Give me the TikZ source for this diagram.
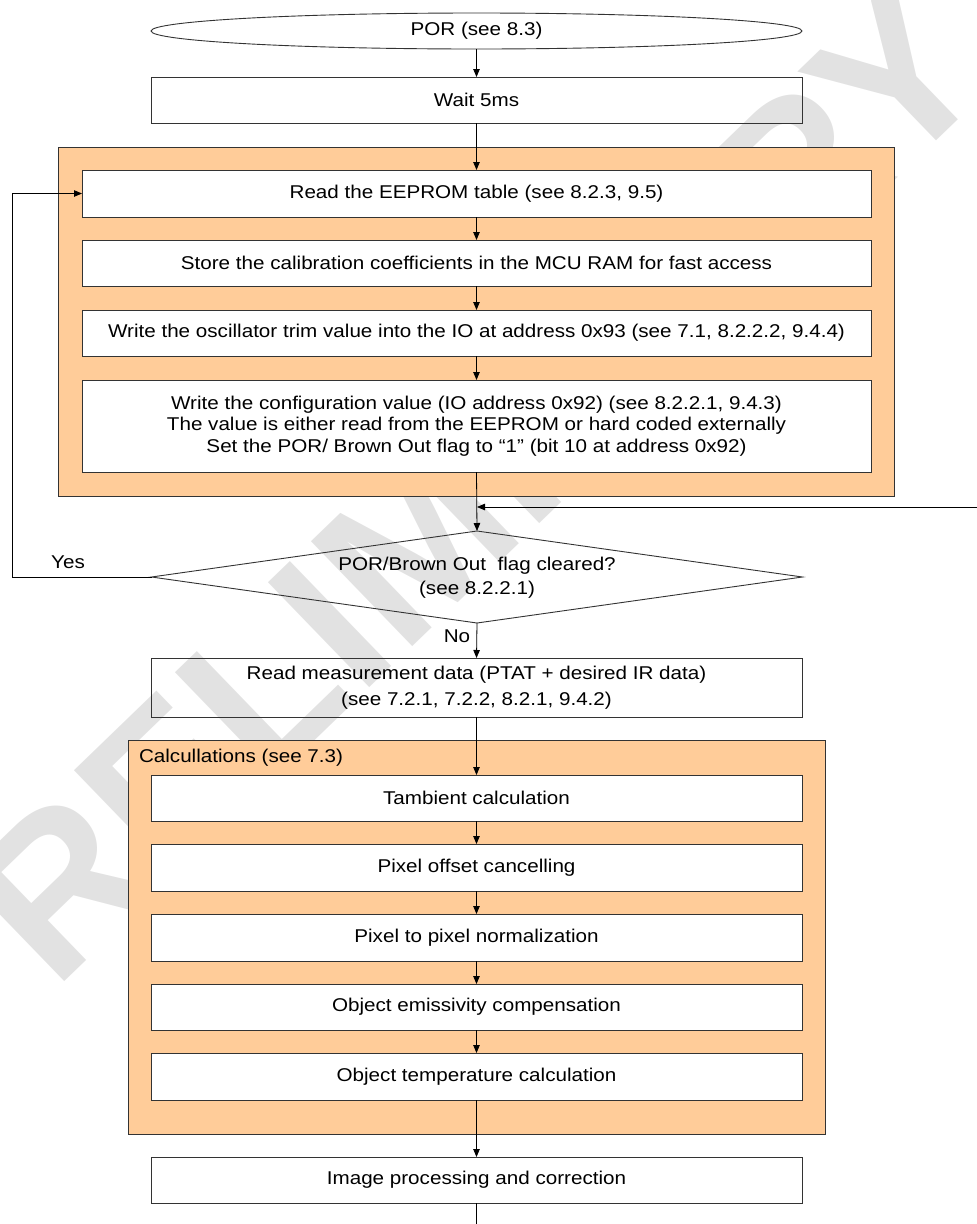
\documentclass[tikz,border=0pt]{standalone}
\usepackage{fontspec}
\setmainfont{Liberation Sans}[FakeStretch=1.115]
\newfontfamily\wmfont{Liberation Sans}
\usetikzlibrary{shapes.geometric,arrows.meta}
\definecolor{grpfill}{HTML}{FFCC99}
\definecolor{edgecol}{HTML}{333333}
\definecolor{wmark}{HTML}{E2E2E2}
\begin{document}
\begin{tikzpicture}[x=1pt,y=-1pt,
  every node/.style={font=\fontsize{18.5}{21.7}\selectfont, inner sep=0pt, outer sep=0pt},
  stepbox/.style={draw=edgecol, line width=0.9pt, align=center, minimum width=651pt, minimum height=46pt},
  innerbox/.style={stepbox, fill=white, minimum width=789pt},
  calcbox/.style={stepbox, fill=white},
  grp/.style={draw=edgecol, line width=0.9pt, fill=grpfill},
  conn/.style={draw=black, line width=0.8pt},
  arr/.style={conn, -{Triangle[length=8pt,width=6.5pt]}},
  lbl/.style={font=\fontsize{18.5}{21.7}\selectfont},
]
\useasboundingbox (0,0) rectangle (977,1224);
% watermark
\node[rotate=44, font=\wmfont\fontsize{212}{212}\selectfont\bfseries, text=wmark] (wm) at (425,533) {PRELIMINARY};

% start
\node[draw=edgecol, line width=0.9pt, ellipse, minimum width=651pt, minimum height=36pt] (por) at (476.5,31) {POR (see 8.3)};
\node[stepbox] (wait) at (476.5,100) {Wait 5ms};

% group 1
\node[grp, minimum width=836pt, minimum height=349pt] (g1) at (476,321.5) {};
\node[innerbox, minimum height=47pt] (eeprom) at (476.5,193.5) {Read the EEPROM table (see 8.2.3, 9.5)};
\node[innerbox] (store) at (476.5,263) {Store the calibration coefficients in the MCU RAM for fast access};
\node[innerbox] (osc) at (476.5,333) {Write the oscillator trim value into the IO at address 0x93 (see 7.1, 8.2.2.2, 9.4.4)};
\node[innerbox, minimum height=92pt] (config) at (476.5,426) {Write the configuration value (IO address 0x92) (see 8.2.2.1, 9.4.3)\\The value is either read from the EEPROM or hard coded externally\\Set the POR/ Brown Out flag to “1” (bit 10 at address 0x92)};

% decision
\node[draw=edgecol, line width=0.9pt, diamond, minimum width=651pt, minimum height=92pt] (dec) at (477,577) {};
\node[align=center, font=\fontsize{18.5}{24}\selectfont] (dectext) at (477,578) {POR/Brown Out\ \ flag cleared?\\(see 8.2.2.1)};
\node[lbl] (yes) at (68,562) {Yes};
\node[lbl] (no) at (457,636) {No};
\coordinate (loopx) at (12,577);
\coordinate (rin) at (977,507);

\node[stepbox, minimum height=59pt, font=\fontsize{18.5}{26}\selectfont] (meas) at (476.5,687.5) {Read measurement data (PTAT + desired IR data)\\(see 7.2.1, 7.2.2, 8.2.1, 9.4.2)};

% group 2
\node[grp, minimum width=697pt, minimum height=394pt] (g2) at (476.5,937) {};
\node[lbl, anchor=west] (calclbl) at (139,758) {Calcullations (see 7.3)};
\node[calcbox] (tamb) at (476.5,798) {Tambient calculation};
\node[calcbox, minimum height=47pt] (poff) at (476.5,867.5) {Pixel offset cancelling};
\node[calcbox, minimum height=47pt] (p2p) at (476.5,937.5) {Pixel to pixel normalization};
\node[calcbox] (emis) at (476.5,1007) {Object emissivity compensation};
\node[calcbox, minimum height=47pt] (otemp) at (476.5,1076.5) {Object temperature calculation};

\node[stepbox] (imgp) at (476.5,1180) {Image processing and correction};
\coordinate (endc) at (476.5,1224);

% connectors
\draw[arr] (por.south) -- (wait.north);
\draw[arr] (wait.south) -- (eeprom.north);
\draw[arr] (eeprom.south) -- (store.north);
\draw[arr] (store.south) -- (osc.north);
\draw[arr] (osc.south) -- (config.north);
\draw[arr] (config.south) -- (dec.north);
\draw[arr] (rin) -- (rin -| dec.north);
\draw[arr] (dec.west) -- (loopx) |- (eeprom.west);
\draw[arr] (dec.south) -- (meas.north);
\draw[arr] (meas.south) -- (tamb.north);
\draw[arr] (tamb.south) -- (poff.north);
\draw[arr] (poff.south) -- (p2p.north);
\draw[arr] (p2p.south) -- (emis.north);
\draw[arr] (emis.south) -- (otemp.north);
\draw[arr] (otemp.south) -- (imgp.north);
\draw[conn] (imgp.south) -- (endc);
\end{tikzpicture}
\end{document}
